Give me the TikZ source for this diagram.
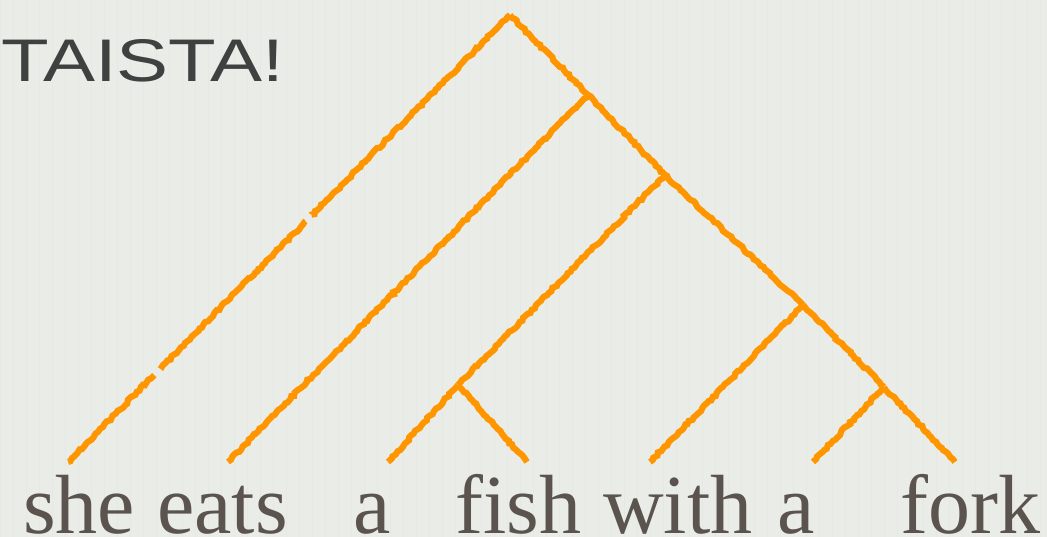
\documentclass[tikz,border=0pt]{standalone}
\usepackage{fontspec}
\usepackage{graphicx}
\setmainfont{Liberation Serif}
\setsansfont{Liberation Sans}
\usetikzlibrary{decorations.pathmorphing}
\definecolor{bg}{RGB}{234,236,232}
\definecolor{gridc}{RGB}{229,232,227}
\definecolor{chalk}{RGB}{255,150,0}
\definecolor{wordc}{RGB}{91,84,78}
\definecolor{titlec}{RGB}{64,64,64}
\begin{document}
\begin{tikzpicture}[x=1pt,y=-1pt,
  branch/.style={draw=chalk,line width=6.2pt,line cap=butt,
    decorate,decoration={random steps,segment length=3pt,amplitude=1.1pt}},
  word/.style={anchor=base west,inner sep=0pt,text=wordc,font=\fontsize{84}{84}\selectfont},
  title/.style={anchor=south west,inner sep=0pt,text=titlec}]
\fill[bg] (0,0) rectangle (1047,537);
\useasboundingbox (0,0) rectangle (1047,537);
\draw[gridc,line width=0.6pt,step=13] (0,0) grid (1047,537);
% title
\node[title] (title) at (1,82) {\resizebox{283pt}{42pt}{\sffamily TAISTA!}};
% tree coordinates
\coordinate (root) at (510,15);
\coordinate (n1) at (588,95);
\coordinate (n2) at (665,175);
\coordinate (n3) at (803,305);
\coordinate (n4) at (458,385);
\coordinate (n5) at (884,387);
\coordinate (lshe) at (68,462);
\coordinate (leats) at (228,462);
\coordinate (la) at (388,462);
\coordinate (lfish) at (527,462);
\coordinate (lwith) at (650,462);
\coordinate (la2) at (813,462);
\coordinate (lfork) at (955,462);
% branches
\draw[branch,dash pattern=on 293pt off 9pt on 216pt off 9pt on 200pt] (root) -- (lshe);
\draw[branch] (root) -- (n1);
\draw[branch] (n1) -- (leats);
\draw[branch] (n1) -- (n2);
\draw[branch] (n2) -- (n4);
\draw[branch] (n2) -- (n3);
\draw[branch] (n4) -- (la);
\draw[branch] (n4) -- (lfish);
\draw[branch] (n3) -- (lwith);
\draw[branch] (n3) -- (n5);
\draw[branch] (n5) -- (la2);
\draw[branch] (n5) -- (lfork);
% words
\node[word] (w1) at (23,533) {she};
\node[word] (w2) at (157,533) {eats};
\node[word] (w3) at (353,533) {a};
\node[word] (w4) at (455,533) {fish};
\node[word] (w5) at (603,533) {with};
\node[word] (w6) at (777,533) {a};
\node[word] (w7) at (900,533) {fork};
\end{tikzpicture}
\end{document}
